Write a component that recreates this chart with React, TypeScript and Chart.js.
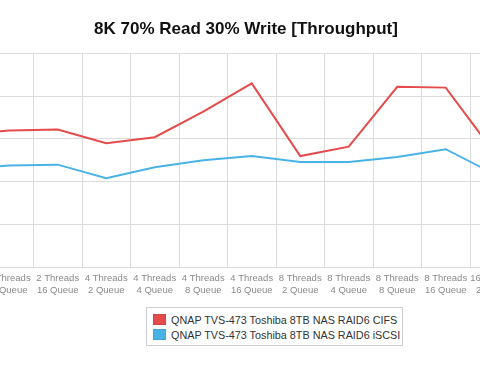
import React, { useEffect, useRef } from "react";
import { Chart, registerables } from "chart.js";

Chart.register(...registerables);

const TITLE = "8K 70% Read 30% Write [Throughput]";
const THREADS = ["2 Threads", "4 Threads", "8 Threads", "16 Threads"];
const QUEUES = ["2 Queue", "4 Queue", "8 Queue", "16 Queue"];
const CATEGORIES: string[][] = [];
for (const t of THREADS) for (const q of QUEUES) CATEGORIES.push([t, q]);

const SERIES_NAMES = [
  "QNAP TVS-473 Toshiba 8TB NAS RAID6 CIFS",
  "QNAP TVS-473 Toshiba 8TB NAS RAID6 iSCSI",
];
const SERIES_COLORS = ["#e54b4b", "#4ab3e6"];
const CIFS = [15.0, 15.5, 16.0, 16.1, 14.5, 15.2, 18.2, 21.5, 13.0, 14.1, 21.1, 21.0, 13.4, 14.2, 15.0, 16.5];
const ISCSI = [11.2, 11.5, 11.9, 12.0, 10.4, 11.7, 12.5, 13.0, 12.3, 12.3, 12.9, 13.8, 10.9, 11.3, 11.8, 12.2];
const Y_MIN = 0;
const Y_MAX = 25;
const Y_STEP = 5;

export default function App() {
  const ref = useRef<HTMLCanvasElement>(null);
  useEffect(() => {
    if (!ref.current) return;
    const chart = new Chart(ref.current, {
      type: "line",
      data: {
        labels: CATEGORIES,
        datasets: [
          { label: SERIES_NAMES[0], data: CIFS, borderColor: SERIES_COLORS[0], backgroundColor: SERIES_COLORS[0], borderWidth: 2, pointRadius: 0, tension: 0, fill: false },
          { label: SERIES_NAMES[1], data: ISCSI, borderColor: SERIES_COLORS[1], backgroundColor: SERIES_COLORS[1], borderWidth: 2, pointRadius: 0, tension: 0, fill: false },
        ],
      },
      options: {
        animation: false,
        responsive: false,
        layout: { padding: { left: 10, right: 10, top: 0, bottom: 3 } },
        plugins: {
          legend: { display: false },
          tooltip: { enabled: false },
          title: {
            display: true,
            text: TITLE,
            color: "#111",
            font: { family: "'Liberation Sans', Arial, sans-serif", size: 17, weight: "bold" },
            padding: { top: 19, bottom: 14 },
          },
        },
        scales: {
          x: {
            offset: true,
            grid: { offset: true, color: "#dcdcdc", drawTicks: false },
            border: { color: "#dcdcdc" },
            ticks: {
              color: "#8a8a8a",
              padding: 5,
              maxRotation: 0,
              autoSkip: false,
              font: { family: "'Liberation Sans', Arial, sans-serif", size: 9.5, lineHeight: 1.3 },
            },
          },
          y: {
            min: Y_MIN,
            max: Y_MAX,
            grid: { color: "#dcdcdc", drawTicks: false },
            border: { display: false },
            ticks: { display: false, stepSize: Y_STEP },
            afterFit: (s: any) => {
              s.width = 60;
            },
          },
        },
      },
    });
    return () => chart.destroy();
  }, []);

  return (
    <div style={{ position: "fixed", left: 0, top: 0, width: 480, height: 372, overflow: "hidden", background: "#fff" }}>
      <div style={{ position: "absolute", left: -182, top: 0 }}>
        <canvas ref={ref} width={856} height={305} style={{ display: "block" }} />
      </div>
      <div
        style={{
          position: "absolute",
          left: 146,
          top: 307,
          width: 257,
          height: 39,
          boxSizing: "border-box",
          border: "1px solid #cfcfcf",
          padding: "4px 0 0 6px",
          fontFamily: "'Liberation Sans', Arial, sans-serif",
          fontSize: 10.8,
          color: "#333",
        }}
      >
        {SERIES_NAMES.map((n, i) => (
          <div key={n} style={{ display: "flex", alignItems: "center", height: 15 }}>
            <span style={{ display: "block", flexShrink: 0, width: 13, height: 11, background: SERIES_COLORS[i], marginRight: 5, boxShadow: "inset 0 0 0 1px rgba(0,0,0,0.08)" }} />
            <span style={{ whiteSpace: "nowrap" }}>{n}</span>
          </div>
        ))}
      </div>
    </div>
  );
}
